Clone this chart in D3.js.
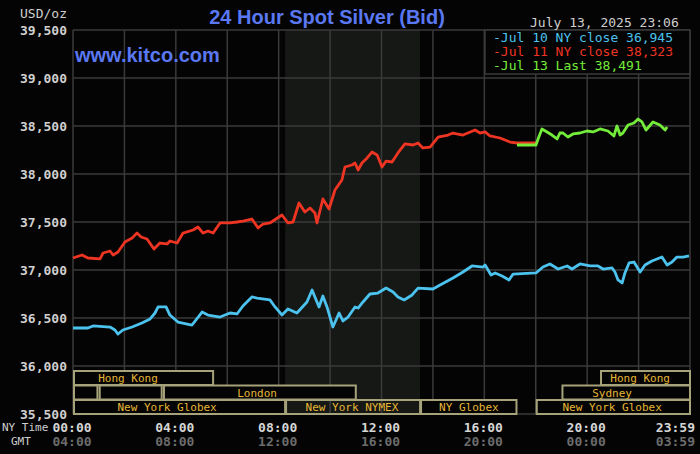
<!DOCTYPE html>
<html>
<head>
<meta charset="utf-8">
<script src="https://cdn.jsdelivr.net/npm/d3@7"></script>
<style>
  body { margin: 0; background: #000; }
  svg { display: block; }
  .mono { font-family: "DejaVu Sans Mono", "Liberation Mono", monospace; }
</style>
</head>
<body>
<svg class="silver-chart"></svg>
<script>
// [hour of NY day, USD/oz]
var jul10Series = [
  [0.00, 36396], [0.58, 36396], [0.78, 36417], [1.44, 36406], [1.63, 36375], [1.75, 36333],
  [1.94, 36375], [2.30, 36406], [2.68, 36448], [3.00, 36490], [3.19, 36552], [3.31, 36615],
  [3.62, 36615], [3.77, 36531], [4.08, 36458], [4.63, 36427], [5.02, 36562], [5.25, 36531],
  [5.72, 36510], [6.11, 36552], [6.38, 36542], [6.61, 36625], [6.96, 36719], [7.16, 36708],
  [7.66, 36688], [7.86, 36615], [8.13, 36531], [8.36, 36594], [8.71, 36552], [9.10, 36667],
  [9.30, 36792], [9.41, 36719], [9.57, 36615], [9.72, 36729], [9.88, 36615], [10.11, 36406],
  [10.35, 36552], [10.50, 36469], [10.70, 36510], [10.97, 36615], [11.09, 36604], [11.28, 36667],
  [11.55, 36750], [11.86, 36760], [12.18, 36812], [12.45, 36771], [12.64, 36719], [12.88, 36688],
  [13.19, 36740], [13.42, 36812], [14.00, 36802], [14.35, 36854], [14.78, 36917], [15.17, 36979],
  [15.52, 37042], [15.95, 37031], [16.03, 37052], [16.26, 36948], [16.42, 36969], [16.69, 36938],
  [16.96, 36896], [17.12, 36958], [18.01, 36969], [18.28, 37031], [18.55, 37063], [18.87, 37010],
  [19.22, 37042], [19.41, 37010], [19.72, 37063], [20.11, 37042], [20.42, 37042], [20.62, 37010],
  [20.97, 37021], [21.08, 36979], [21.20, 36896], [21.36, 36865], [21.47, 36969], [21.63, 37073],
  [21.82, 37083], [22.06, 36979], [22.25, 37052], [22.52, 37094], [22.91, 37135], [23.11, 37052],
  [23.30, 37083], [23.49, 37135], [23.73, 37135], [23.96, 37146]
];

var jul11Series = [
  [0.00, 37125], [0.35, 37156], [0.58, 37125], [1.05, 37115], [1.17, 37177], [1.44, 37198],
  [1.56, 37156], [1.75, 37188], [2.02, 37292], [2.30, 37333], [2.49, 37385], [2.65, 37344],
  [2.88, 37323], [3.15, 37219], [3.38, 37281], [3.66, 37271], [3.77, 37302], [4.05, 37281],
  [4.28, 37385], [4.67, 37417], [4.86, 37448], [5.06, 37385], [5.25, 37406], [5.45, 37385],
  [5.72, 37490], [6.11, 37490], [6.38, 37500], [6.61, 37510], [6.96, 37531], [7.20, 37438],
  [7.39, 37479], [7.66, 37490], [8.13, 37573], [8.36, 37490], [8.56, 37500], [8.79, 37698],
  [9.02, 37604], [9.22, 37646], [9.41, 37594], [9.49, 37490], [9.72, 37740], [9.96, 37635],
  [10.19, 37833], [10.46, 37938], [10.58, 38073], [10.85, 38094], [10.97, 38115], [11.09, 38042],
  [11.24, 38115], [11.44, 38167], [11.63, 38229], [11.83, 38198], [12.02, 38073], [12.18, 38135],
  [12.41, 38125], [12.64, 38219], [12.91, 38313], [13.23, 38302], [13.42, 38323], [13.61, 38271],
  [13.89, 38281], [14.20, 38385], [14.59, 38406], [14.78, 38427], [15.17, 38406], [15.64, 38458],
  [15.83, 38427], [16.03, 38438], [16.22, 38396], [16.61, 38375], [17.00, 38333], [17.27, 38323],
  [18.01, 38323]
];

var jul13Series = [
  [17.27, 38302], [18.01, 38302], [18.09, 38365], [18.24, 38469], [18.44, 38438], [18.63, 38406],
  [18.83, 38365], [18.94, 38427], [19.06, 38427], [19.25, 38385], [19.45, 38417], [19.72, 38427],
  [19.99, 38448], [20.23, 38438], [20.50, 38469], [20.81, 38448], [21.04, 38396], [21.16, 38500],
  [21.28, 38406], [21.39, 38427], [21.59, 38510], [21.82, 38531], [21.98, 38573], [22.13, 38542],
  [22.29, 38458], [22.56, 38542], [22.83, 38510], [23.03, 38458], [23.11, 38490]
];

var legendLabels = ["-Jul 10 NY close 36,945", "-Jul 11 NY close 38,323", "-Jul 13 Last 38,491"];
var yTicks = [35500, 36000, 36500, 37000, 37500, 38000, 38500, 39000, 39500];
var xGridHours = [0, 2, 4, 6, 8, 10, 12, 14, 16, 18, 20, 22, 24];
var xLabelHours = [0, 4, 8, 12, 16, 20, 24];
var nyTimeLabels = ["00:00", "04:00", "08:00", "12:00", "16:00", "20:00", "23:59"];
var gmtLabels = ["04:00", "08:00", "12:00", "16:00", "20:00", "00:00", "03:59"];
var nymexHours = [8.25, 13.5];

// trading sessions: [row, start hour, end hour, label, label centre hour]
var sessions = [
  [0, 0, 5.45, "Hong Kong", 2.14],
  [0, 20.5, 24, "Hong Kong", 22.06],
  [1, 0, 0.95, "", 0],
  [1, 1.0, 3.45, "", 0],
  [1, 3.5, 11, "London", 7.16],
  [1, 19, 24, "Sydney", 20.97],
  [2, 0, 8.25, "New York Globex", 3.66],
  [2, 8.25, 13.5, "New York NYMEX", 10.85],
  [2, 13.5, 17.25, "NY Globex", 15.4],
  [2, 18, 24, "New York Globex", 20.97]
];

drawSilver();

function drawSilver() {
  var width = 700, height = 454;
  var left = 73, right = 690, top = 30, bottom = 414;

  var x = d3.scaleLinear().domain([0, 24]).range([left, right]);
  var y = d3.scaleLinear().domain([35500, 39500]).range([bottom, top]);

  var svg = d3.select(".silver-chart")
    .attr("width", width)
    .attr("height", height);

  svg.append("rect")
    .attr("width", width)
    .attr("height", height)
    .attr("fill", "#040404");

  // NYMEX shaded hours
  svg.append("rect")
    .attr("x", x(nymexHours[0]))
    .attr("y", top)
    .attr("width", x(nymexHours[1]) - x(nymexHours[0]))
    .attr("height", bottom - top)
    .attr("fill", "#151815");

  // grid
  svg.append("g")
    .selectAll("line")
    .data(yTicks)
    .enter().append("line")
    .attr("x1", left).attr("x2", right)
    .attr("y1", function(d) { return y(d); })
    .attr("y2", function(d) { return y(d); })
    .attr("stroke", "#3a3a3a")
    .attr("stroke-width", 1.5);

  svg.append("g")
    .selectAll("line")
    .data(xGridHours)
    .enter().append("line")
    .attr("x1", function(d) { return x(d); })
    .attr("x2", function(d) { return x(d); })
    .attr("y1", top).attr("y2", bottom)
    .attr("stroke", "#3a3a3a")
    .attr("stroke-width", 1.5);

  // y tick labels
  var fmt = d3.format(",");
  svg.append("g")
    .selectAll("text")
    .data(yTicks)
    .enter().append("text")
    .attr("class", "mono")
    .attr("x", 67)
    .attr("y", function(d) { return y(d); })
    .attr("dy", "0.36em")
    .attr("text-anchor", "end")
    .attr("font-size", 13)
    .attr("font-weight", "bold")
    .attr("fill", "#cfcfcf")
    .text(function(d) { return fmt(d); });

  svg.append("text")
    .attr("class", "mono")
    .attr("x", 67).attr("y", 18)
    .attr("text-anchor", "end")
    .attr("font-size", 13)
    .attr("fill", "#cfcfcf")
    .text("USD/oz");

  // sessions
  var rowTop = [371, 385.5, 400];
  var rowH = 14;
  var sess = svg.append("g").selectAll("g")
    .data(sessions)
    .enter().append("g");

  sess.append("rect")
    .attr("x", function(d) { return x(d[1]) + 1; })
    .attr("y", function(d) { return rowTop[d[0]]; })
    .attr("width", function(d) { return x(d[2]) - x(d[1]) - 1; })
    .attr("height", rowH)
    .attr("fill", "#040404")
    .attr("fill-opacity", function(d) { return d[3] === "New York NYMEX" ? 0 : 1; })
    .attr("stroke", "#a6a27a")
    .attr("stroke-width", 2);

  sess.append("text")
    .attr("class", "mono")
    .attr("x", function(d) { return x(d[4]); })
    .attr("y", function(d) { return rowTop[d[0]] + rowH / 2; })
    .attr("dy", "0.37em")
    .attr("text-anchor", "middle")
    .attr("font-size", 11)
    .attr("fill", "#e6b636")
    .text(function(d) { return d[3]; });

  // price lines
  var line = d3.line()
    .x(function(d) { return x(d[0]); })
    .y(function(d) { return y(d[1]); });

  var series = [
    { data: jul10Series, color: "#4cc3ee" },
    { data: jul11Series, color: "#ee3422" },
    { data: jul13Series, color: "#74ec3a" }
  ];

  series.forEach(function(s) {
    svg.append("path")
      .datum(s.data)
      .attr("fill", "none")
      .attr("stroke", s.color)
      .attr("stroke-width", 2.8)
      .attr("stroke-linejoin", "round")
      .attr("d", line);
  });

  // legend
  svg.append("rect")
    .attr("x", 485).attr("y", top)
    .attr("width", right - 485).attr("height", 44)
    .attr("fill", "#040404")
    .attr("stroke", "#3a3a3a")
    .attr("stroke-width", 1.5);

  svg.append("g")
    .selectAll("text")
    .data(legendLabels)
    .enter().append("text")
    .attr("class", "mono")
    .attr("x", 493)
    .attr("y", function(d, i) { return 37.5 + i * 13.8; })
    .attr("dy", "0.36em")
    .attr("font-size", 13)
    .attr("fill", function(d, i) { return series[i].color; })
    .text(function(d) { return d; });

  // titles
  svg.append("text")
    .attr("x", 327).attr("y", 24)
    .attr("text-anchor", "middle")
    .attr("font-family", "Liberation Sans, Arial, sans-serif")
    .attr("font-size", 20)
    .attr("font-weight", "bold")
    .attr("fill", "#5a78f2")
    .text("24 Hour Spot Silver (Bid)");

  svg.append("text")
    .attr("x", 75).attr("y", 62)
    .attr("font-family", "Liberation Sans, Arial, sans-serif")
    .attr("font-size", 20)
    .attr("font-weight", "bold")
    .attr("fill", "#5a78f2")
    .text("www.kitco.com");

  svg.append("text")
    .attr("class", "mono")
    .attr("x", 530).attr("y", 22)
    .attr("dy", "0.36em")
    .attr("font-size", 13)
    .attr("fill", "#cfcfcf")
    .text("July 13, 2025 23:06");

  // x labels
  svg.append("text")
    .attr("class", "mono")
    .attr("x", 2).attr("y", 427)
    .attr("dy", "0.36em")
    .attr("font-size", 11)
    .attr("fill", "#cfcfcf")
    .text("NY Time");

  svg.append("text")
    .attr("class", "mono")
    .attr("x", 11).attr("y", 441)
    .attr("dy", "0.36em")
    .attr("font-size", 11)
    .attr("fill", "#cfcfcf")
    .text("GMT");

  function labelX(i) {
    return i === xLabelHours.length - 1 ? x(xLabelHours[i]) + 5 : x(xLabelHours[i]) - 1;
  }
  function labelAnchor(i) {
    return i === xLabelHours.length - 1 ? "end" : "middle";
  }

  svg.append("g")
    .selectAll("text")
    .data(nyTimeLabels)
    .enter().append("text")
    .attr("class", "mono")
    .attr("x", function(d, i) { return labelX(i); })
    .attr("y", 427)
    .attr("dy", "0.36em")
    .attr("text-anchor", function(d, i) { return labelAnchor(i); })
    .attr("font-size", 13)
    .attr("font-weight", "bold")
    .attr("fill", "#d6d6d6")
    .text(function(d) { return d; });

  svg.append("g")
    .selectAll("text")
    .data(gmtLabels)
    .enter().append("text")
    .attr("class", "mono")
    .attr("x", function(d, i) { return labelX(i); })
    .attr("y", 441)
    .attr("dy", "0.36em")
    .attr("text-anchor", function(d, i) { return labelAnchor(i); })
    .attr("font-size", 13)
    .attr("font-weight", "bold")
    .attr("fill", "#6c6c6c")
    .text(function(d) { return d; });
}
</script>
</body>
</html>
